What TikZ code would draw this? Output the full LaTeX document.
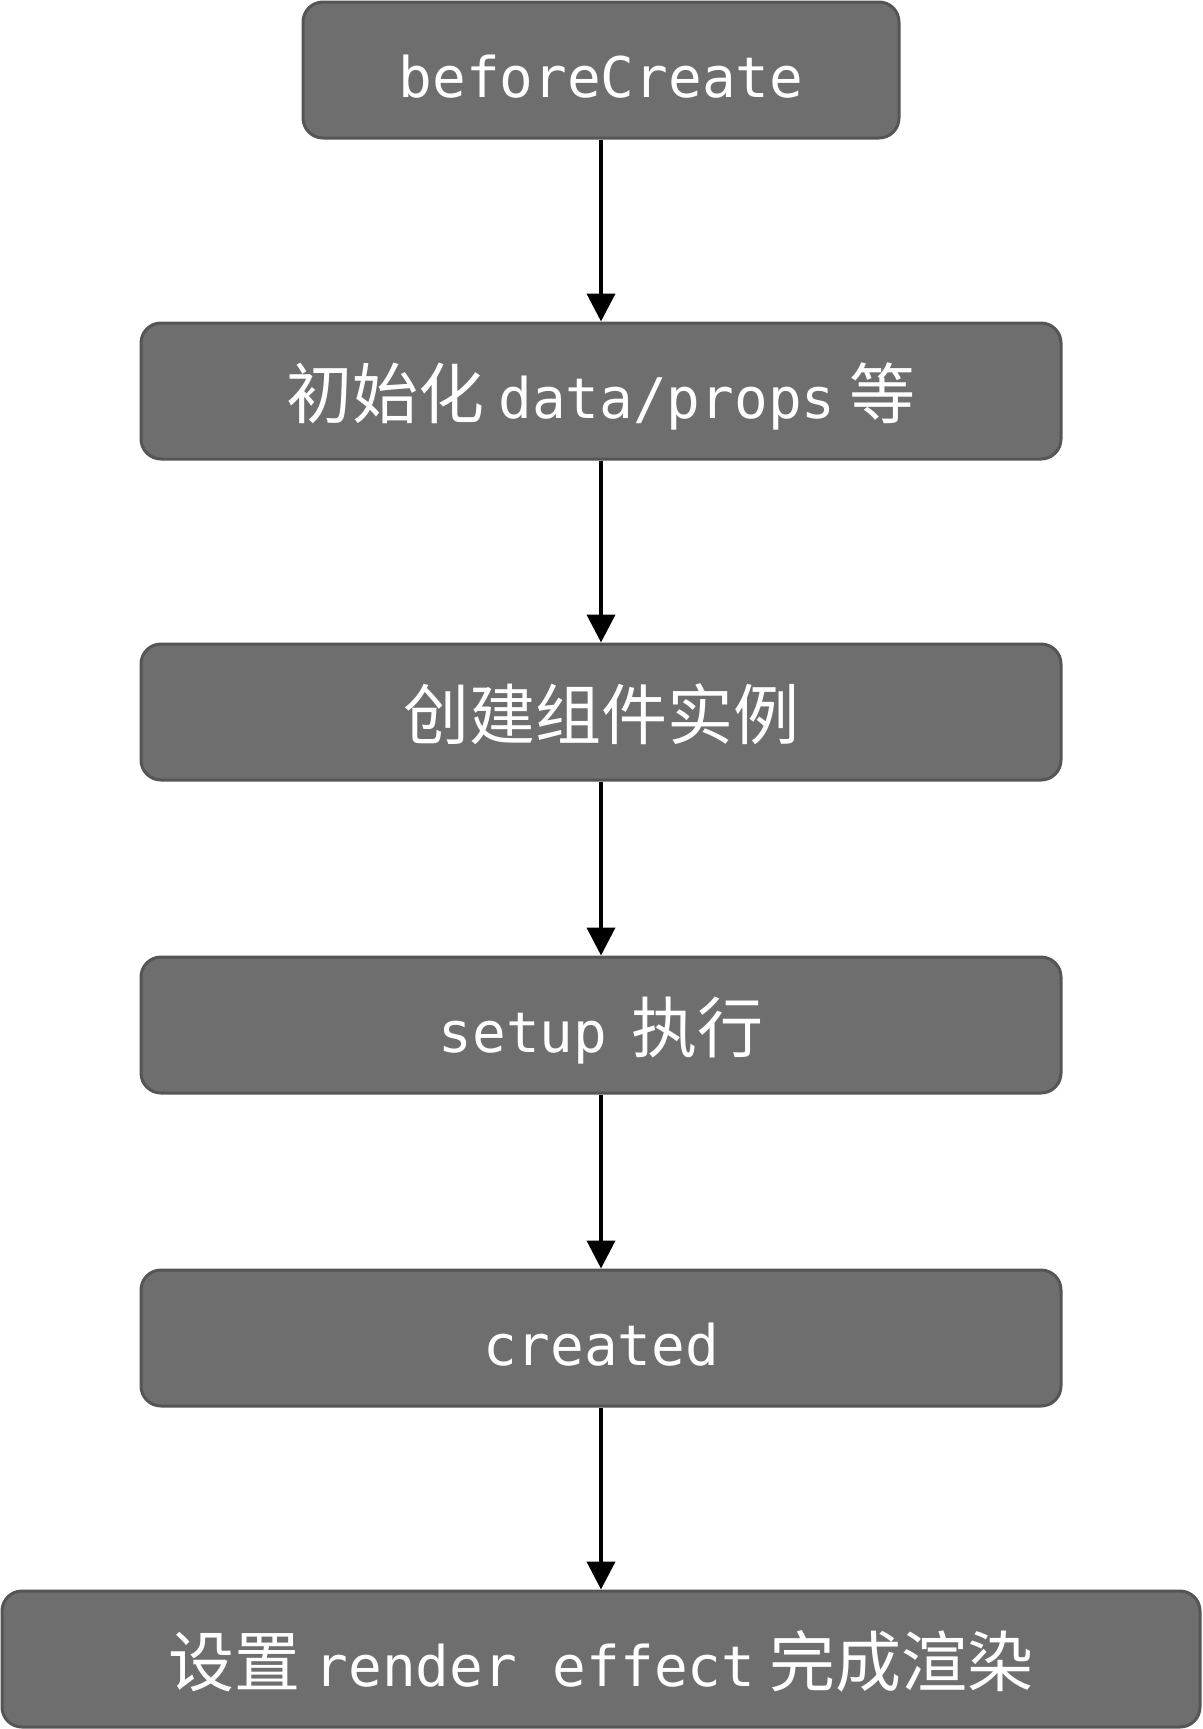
\documentclass[tikz,border=0pt]{standalone}
\usepackage{fontspec}
\setmainfont{DejaVu Sans Mono}
\newfontfamily\cjk{Noto Sans CJK SC}
\usetikzlibrary{arrows.meta}
\definecolor{boxfill}{HTML}{6E6E6E}
\definecolor{boxline}{HTML}{555555}
\newcommand{\zh}[1]{{\cjk\fontsize{33}{36}\selectfont #1}}
\tikzset{
  stepbox/.style={draw=boxline, line width=1.5pt, fill=boxfill, rounded corners=10pt,
    text=white, font=\fontsize{28}{32}\selectfont, inner sep=0pt, minimum height=68pt,
    text height=30pt, text depth=2.6pt},
  flow/.style={line width=2pt, -{Triangle[length=14pt,width=14pt]}}
}
\begin{document}
\begin{tikzpicture}[x=0.5pt,y=-0.5pt]
\useasboundingbox (0,0) rectangle (1203,1729);
\node[stepbox, minimum width=298pt] (b1) at (601,70) {beforeCreate};
\node[stepbox, minimum width=460pt] (b2) at (601,391) {\zh{初始化}\hspace{7pt}data/props\hspace{7pt}\zh{等}};
\node[stepbox, minimum width=460pt] (b3) at (601,712) {\zh{创建组件实例}};
\node[stepbox, minimum width=460pt] (b4) at (601,1025) {setup\hspace{12pt}\zh{执行}};
\node[stepbox, minimum width=460pt] (b5) at (601,1338) {created};
\node[stepbox, minimum width=599pt] (b6) at (601,1659) {\zh{设置}\hspace{7pt}render\hspace{18pt}effect\hspace{7pt}\zh{完成渲染}};
\draw[flow] (b1) -- (b2);
\draw[flow] (b2) -- (b3);
\draw[flow] (b3) -- (b4);
\draw[flow] (b4) -- (b5);
\draw[flow] (b5) -- (b6);
\end{tikzpicture}
\end{document}
